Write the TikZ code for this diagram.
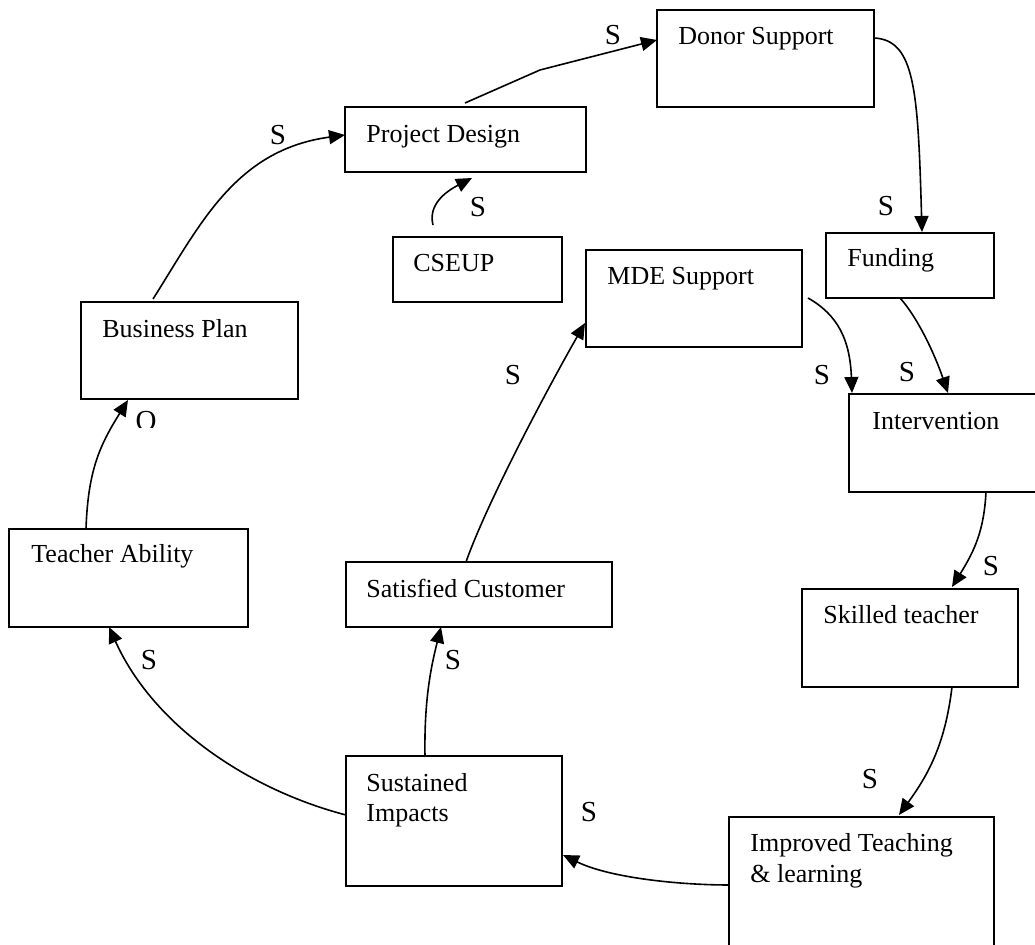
\documentclass[tikz,border=0pt]{standalone}
\usepackage{fontspec}
\setmainfont{Liberation Serif}
\usetikzlibrary{arrows.meta,calc}
\begin{document}
\begin{tikzpicture}[x=0.5pt,y=-0.5pt,
 box/.style={draw,line width=1pt,rectangle,anchor=north west,inner sep=0pt,outer sep=0pt},
 txt/.style={anchor=base west,inner sep=0pt,font=\fontsize{13}{15.2}\selectfont},
 lab/.style={inner sep=0pt,font=\fontsize{14.5}{17}\selectfont},
 conn/.style={line width=0.8pt,-{Triangle[length=8pt,width=7pt]}}]
\useasboundingbox (0,0) rectangle (1035,945);
\clip (0,0) rectangle (1035,945);

% boxes
\node[box,minimum width=108.5pt,minimum height=48.5pt] (don) at (657,10) {};
\node[box,minimum width=120.5pt,minimum height=32.5pt] (pd) at (345,107) {};
\node[box,minimum width=84.5pt,minimum height=32.5pt] (cse) at (393,237) {};
\node[box,minimum width=108pt,minimum height=48.5pt] (mde) at (586,250) {};
\node[box,minimum width=84pt,minimum height=32.5pt] (fund) at (826,233) {};
\node[box,minimum width=108.5pt,minimum height=48.5pt] (bp) at (81,302) {};
\node[box,minimum width=100pt,minimum height=49pt] (int) at (849,394) {};
\node[box,minimum width=119.5pt,minimum height=49pt] (ta) at (9,529) {};
\node[box,minimum width=133pt,minimum height=32.5pt] (sc) at (346,562) {};
\node[box,minimum width=108pt,minimum height=65pt] (si) at (346,756) {};
\node[box,minimum width=108pt,minimum height=49pt] (st) at (802,589) {};
\node[box,minimum width=132.5pt,minimum height=75pt] (itl) at (729,817) {};

% texts
\node[txt] (donT) at (678,45) {Donor Support};
\node[txt] (pdT) at (366,143) {Project Design};
\node[txt] (cseT) at (413,272) {CSEUP};
\node[txt] (mdeT) at (607,285) {MDE Support};
\node[txt] (fundT) at (847,267) {Funding};
\node[txt] (bpT) at (102,338) {Business Plan};
\node[txt] (intT) at (872,430) {Intervention};
\node[txt] (taT) at (31,563) {Teacher Ability};
\node[txt] (scT) at (366,598) {Satisfied Customer};
\node[txt] (siT1) at (366,792) {Sustained};
\node[txt] (siT2) at (366,822) {Impacts};
\node[txt] (stT) at (823,624) {Skilled teacher};
\node[txt] (itlT1) at (750,852) {Improved Teaching};
\node[txt] (itlT2) at (750,883) {\&\ learning};

% connectors
\draw[conn] ($(bp.north west)+(72,-3)$) .. controls +(47,-74) and +(-110,15) .. ($(pd.north west)+(0,28)$);
\draw[conn] ($(cse.north west)+(40,-12)$) .. controls +(-5,-20) and +(-27,14) .. ($(pd.north west)+(127,71)$);
\draw[conn] ($(pd.north west)+(120,-4)$) -- ++(75,-33) -- ($(don.north west)+(0,30)$);
\draw[conn] ($(don.north west)+(217,28)$) .. controls +(41,2) and +(-4,-142) .. ($(fund.north west)+(96,-1)$);
\draw[conn] ($(mde.north west)+(222,48)$) .. controls +(30,17) and +(-2,-53) .. ($(int.north west)+(3,-1)$);
\draw[conn] ($(fund.north west)+(74,65)$) .. controls +(18,20) and +(-13,-38) .. ($(int.north west)+(99,-1)$);
\draw[conn] ($(int.north west)+(137,98)$) .. controls +(-2,38) and +(23,-37) .. ($(st.north west)+(150,-2)$);
\draw[conn] ($(st.north west)+(150,98)$) .. controls +(-7,58) and +(29,-40) .. ($(itl.north west)+(170,-2)$);
\draw[conn] ($(itl.north west)+(0,68)$) .. controls +(-49,0) and +(47,23) .. ($(si.north west)+(217,99)$);
\draw[conn] ($(si.north west)+(79,1)$) .. controls +(-1,-57) and +(-10,40) .. ($(sc.north west)+(95,65)$);
\draw[conn] ($(si.north west)+(0,59)$) .. controls +(-96,-25) and +(45,100) .. ($(ta.north west)+(100,98)$);
\draw[conn] ($(sc.north west)+(120,0)$) .. controls +(20,-57) and +(-40,70) .. ($(mde.north west)+(-1,73)$);
\draw[conn] ($(ta.north west)+(77,0)$) .. controls +(2,-59) and +(-28,45) .. ($(bp.north west)+(47,98)$);

% labels
\node[lab] (s1) at (278,135) {S};
\node[lab] (s2) at (478,207) {S};
\node[lab] (s3) at (613,35) {S};
\node[lab] (s4) at (886,206) {S};
\node[lab] (s5) at (822,375) {S};
\node[lab] (s6) at (907,372) {S};
\node[lab] (s7) at (991,566) {S};
\node[lab] (s8) at (870,779) {S};
\node[lab] (s9) at (589,812) {S};
\node[lab] (s10) at (453,660) {S};
\node[lab] (s11) at (149,660) {S};
\node[lab] (s12) at (513,375) {S};
\begin{scope}
\clip (0,0) rectangle (1035,428);
\node[lab] (o1) at (146,421) {O};
\end{scope}
\end{tikzpicture}
\end{document}
